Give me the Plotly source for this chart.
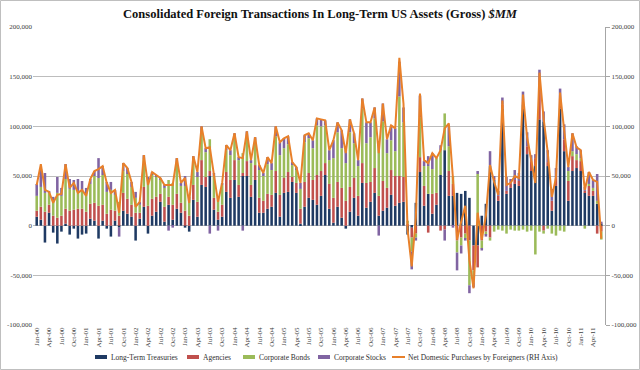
import plotly.graph_objects as go

# Months Jan-00 .. Jun-11
mon_names = ["Jan", "Feb", "Mar", "Apr", "May", "Jun", "Jul", "Aug", "Sep", "Oct", "Nov", "Dec"]
months = [f"{mon_names[m]}-{y:02d}" for y in range(0, 12) for m in range(12)][:138]

# Values in thousands of $MM
treasuries = [9, 6, -17, 13, -7, -18, -6, 2, -9, -3, -13, -9, -8, 7, 5, -13, 5, -3, -11, 5,
              -2, 15, 12, 9, -15, 7, 19, -8, 10, 14, 24, 4, 21, 6, 17, 13,
              -2, -6, 26, 9, 41, 39, 50, 16, 6, 9, 34, 28, 46, 29, 50, 50, 29, 46, 13, 13, 17, 19, 33, 9,
              33, 34, 44, 33, 2, 19, 28, 26, 21, 30, 51, 17, 3, 19, 8, -3, 14, 28, 10, 43,
              18, 24, 33, 10, 15, 18, 31, 20, 23, 24,
              -9, -2, 23, 54, 20, 32, 12, 21, 51, 76, 30, 30, 33, 32, 35, 28, -20, -20, 10, 22,
              60, 46, 25, 118, 32, 38, 42, 40, 122, 72, 55, 60, 107, 105, 60, 15, 40, 118, 75, 25,
              55, 58, 55, 33, 30, 30, 22, 2]
agencies = [6, 13, 14, 8, 10, 8, 10, 15, 15, 16, 17, 17, 14, 15, 18, 20, 16, 12, 16, 10,
            10, 18, 15, 12, 13, 6, 20, 20, 17, 15, 8, 15, 8, 15, 15, 10,
            15, 10, 15, 15, 25, 10, 5, 12, 8, 12, 20, 18, 20, 12, 3, 15, 12, 15, 15, 12, 15, 12, 22, 22,
            15, 20, 5, 10, 15, 25, 25, 20, 30, 25, 12, 25, 25, 25, 30, 25, 25, 20, 20, 20,
            25, 20, 25, 20, 30, 20, 25, 30, 27, 25,
            2, -10, -8, 15, 20, -7, 20, 12, -5, -4, 25, 12, -15, -12, -8, -15, -25, -22, -15, -6,
            -12, 2, 5, 4, 3, 4, 4, 5, 3, 8, 10, 8, 30, -5, 4, 10, 8, 10, 12, 20,
            15, 8, 10, 2, 10, 5, -8, -6]
corp_bonds = [15, 20, 19, 12, 14, 25, 20, 30, 22, 20, 18, 18, 18, 20, 27, 28, 30, 22, 20, 16,
              14, 22, 25, 18, 15, 8, 28, 25, 25, 20, 14, 19, 17, 22, 30, 17,
              25, 15, 25, 25, 28, 25, 32, 22, 15, 20, 22, 25, 22, 25, 20, 25, 22, 25, 28, 25, 30, 25, 35, 40,
              30, 28, 12, 14, 20, 40, 35, 32, 50, 45, 38, 24, 40, 50, 40, 38, 55, 35, 30, 55,
              40, 45, 50, 53, 60, 35, 30, 25, 80, 55,
              3, -14, -4, 40, 20, 28, 25, 35, 25, 37, 25, 8, -12, -8, -5, -45, -12, 52, -8, -3,
              -3, -6, -4, -5, -8, -4, -5, -5, -4, -6, -5, -29, -6, -3, -3, -8, -10, -5, -6, 10,
              5, 6, 3, -3, 2, 3, 3, -8]
corp_stocks = [12, 18, 20, 2, 5, 16, 8, 15, 10, 10, 12, 10, 6, 5, 5, 20, 9, 10, 8, 5,
               -9, 8, 6, 5, 6, 3, 4, 4, 2, 2, 2, 3, -5, -2, 6, 3,
               10, 4, 4, 5, 6, 4, -8, 3, -5, 2, 5, 5, 5, 3, -5, 5, 3, 3, 5, 3, 7, 7, 10, 13,
               10, 8, 3, 2, 6, 7, 5, 8, 7, 7, 5, 10, 18, 10, 18, 13, 13, 10, 6, 10,
               21, 15, 11, -10, 18, 14, 15, 23, 35, 15,
               0, -18, -3, 22, 5, 10, 16, 0, 5, -11, 20, -2, -18, -8, -2, -8, -5, 3, -2, -2,
               15, 2, 5, 7, 14, 5, 10, 8, 10, 14, 6, 4, 20, 10, 12, 12, 10, 10, 15, 4,
               18, 8, 8, 4, 12, 8, 27, 2]
net_purchases = [41, 62, 36, 34, 23, 31, 32, 62, 38, 43, 33, 36, 30, 47, 55, 57, 60, 43, 33, 36,
                 13, 63, 58, 44, 19, 24, 71, 41, 54, 51, 48, 41, 41, 41, 68, 43,
                 48, 23, 70, 54, 100, 78, 79, 53, 24, 43, 81, 76, 93, 69, 68, 95, 66, 89, 61, 53, 69, 63, 100, 84,
                 88, 90, 64, 59, 43, 91, 93, 86, 108, 107, 106, 76, 86, 104, 96, 73, 107, 93, 66, 128,
                 104, 104, 119, 73, 123, 87, 101, 98, 169, 123,
                 -4, -41, 8, 133, 66, 63, 73, 68, 76, 98, 103, 48, -14, 4, 20, -35, -63, 13, -14, 10,
                 61, 44, 31, 126, 41, 43, 50, 48, 132, 89, 66, 43, 154, 108, 74, 29, 48, 134, 96, 59,
                 93, 79, 76, 36, 54, 46, 44, -13]

x_idx = list(range(len(months)))
tick_idx = x_idx[::3]
tick_txt = months[::3]

def k(v):
    return [a * 1000 for a in v]

FONT = "Liberation Serif"
LINE_NAME = "Net Domestic Purchases by Foreigners (RH Axis)"
series = [
    ("Long-Term Treasuries", treasuries, "#1F3A63"),
    ("Agencies", agencies, "#C0504D"),
    ("Corporate Bonds", corp_bonds, "#9BBB59"),
    ("Corporate Stocks", corp_stocks, "#8064A2"),
]
LINE_COLOR = "#E8802A"

# plot area in pixels
L, R, T, B = 33, 605, 27, 325
PW, PH = R - L, B - T

def px(xp):
    return (xp - L) / PW

def py(yp):
    return (B - yp) / PH

fig = go.Figure()
for name, vals, col in series:
    fig.add_trace(go.Bar(x=x_idx, y=k(vals), name=name, showlegend=False,
                         marker=dict(color=col, line=dict(width=0))))

fig.add_trace(go.Scatter(x=x_idx, y=k(net_purchases), name=LINE_NAME, showlegend=False,
                         mode="lines", line=dict(color=LINE_COLOR, width=2), yaxis="y2"))

yt = [-100000, -50000, 0, 50000, 100000, 150000, 200000]
ytt = ["-100,000", "-50,000", "0", "50,000", "100,000", "150,000", "200,000"]

fig.update_layout(
    width=640, height=370,
    margin=dict(l=L, r=640 - R, t=T, b=370 - B),
    paper_bgcolor="white", plot_bgcolor="white",
    barmode="relative", bargap=0.38,
    font=dict(family=FONT, size=7, color="#404040"),
    title=dict(text="<b>Consolidated Foreign Transactions In Long-Term US Assets (Gross) <i>$MM</i></b>",
               x=0.5, xanchor="center", y=1 - 14 / 370, yanchor="middle", yref="container",
               font=dict(family=FONT, size=12.5, color="#111111")),
    xaxis=dict(range=[-0.9, 137.9], tickmode="array", tickvals=tick_idx, ticktext=tick_txt,
               tickangle=-90, showgrid=False, zeroline=False, showline=False, ticks="",
               automargin=False, tickfont=dict(family=FONT, size=7, color="#404040")),
    yaxis=dict(range=[-100000, 200000], tickvals=yt, ticktext=ytt, showgrid=True,
               gridcolor="#BDBDBD", gridwidth=1, zeroline=False, showline=False, ticks="",
               automargin=False, tickfont=dict(family=FONT, size=7, color="#404040")),
    yaxis2=dict(range=[-100000, 200000], tickvals=yt, ticktext=ytt, overlaying="y", side="right",
                showgrid=False, zeroline=False, showline=True, linecolor="#A6A6A6", linewidth=1,
                ticks="outside", ticklen=4, tickcolor="#A6A6A6", automargin=False,
                tickfont=dict(family=FONT, size=7, color="#404040")),
    showlegend=False,
)

# chart border
fig.add_shape(type="rect", xref="paper", yref="paper", x0=px(0.5), x1=px(639.5),
              y0=py(369.5), y1=py(0.5), line=dict(color="#BFBFBF", width=1))

# manual legend (Excel-like keys)
leg_y = 357
leg_x = [95, 187, 243, 318, 392]
names = [s[0] for s in series] + [LINE_NAME]
colors = [s[2] for s in series] + [LINE_COLOR]
for i, (xk, nm, col) in enumerate(zip(leg_x, names, colors)):
    if i < 4:
        fig.add_shape(type="rect", xref="paper", yref="paper", x0=px(xk), x1=px(xk + 12),
                      y0=py(leg_y + 2), y1=py(leg_y - 2), line=dict(width=0), fillcolor=col)
    else:
        fig.add_shape(type="line", xref="paper", yref="paper", x0=px(xk), x1=px(xk + 13),
                      y0=py(leg_y), y1=py(leg_y), line=dict(color=col, width=2))
    fig.add_annotation(text=nm, xref="paper", yref="paper", x=px(xk + 14), y=py(leg_y),
                       xanchor="left", yanchor="middle", showarrow=False,
                       font=dict(family=FONT, size=7.5, color="#303030"))

fig.write_html("out.html", config={"displayModeBar": False},
               post_script="document.body.style.margin='0';document.body.style.overflow='hidden';")
